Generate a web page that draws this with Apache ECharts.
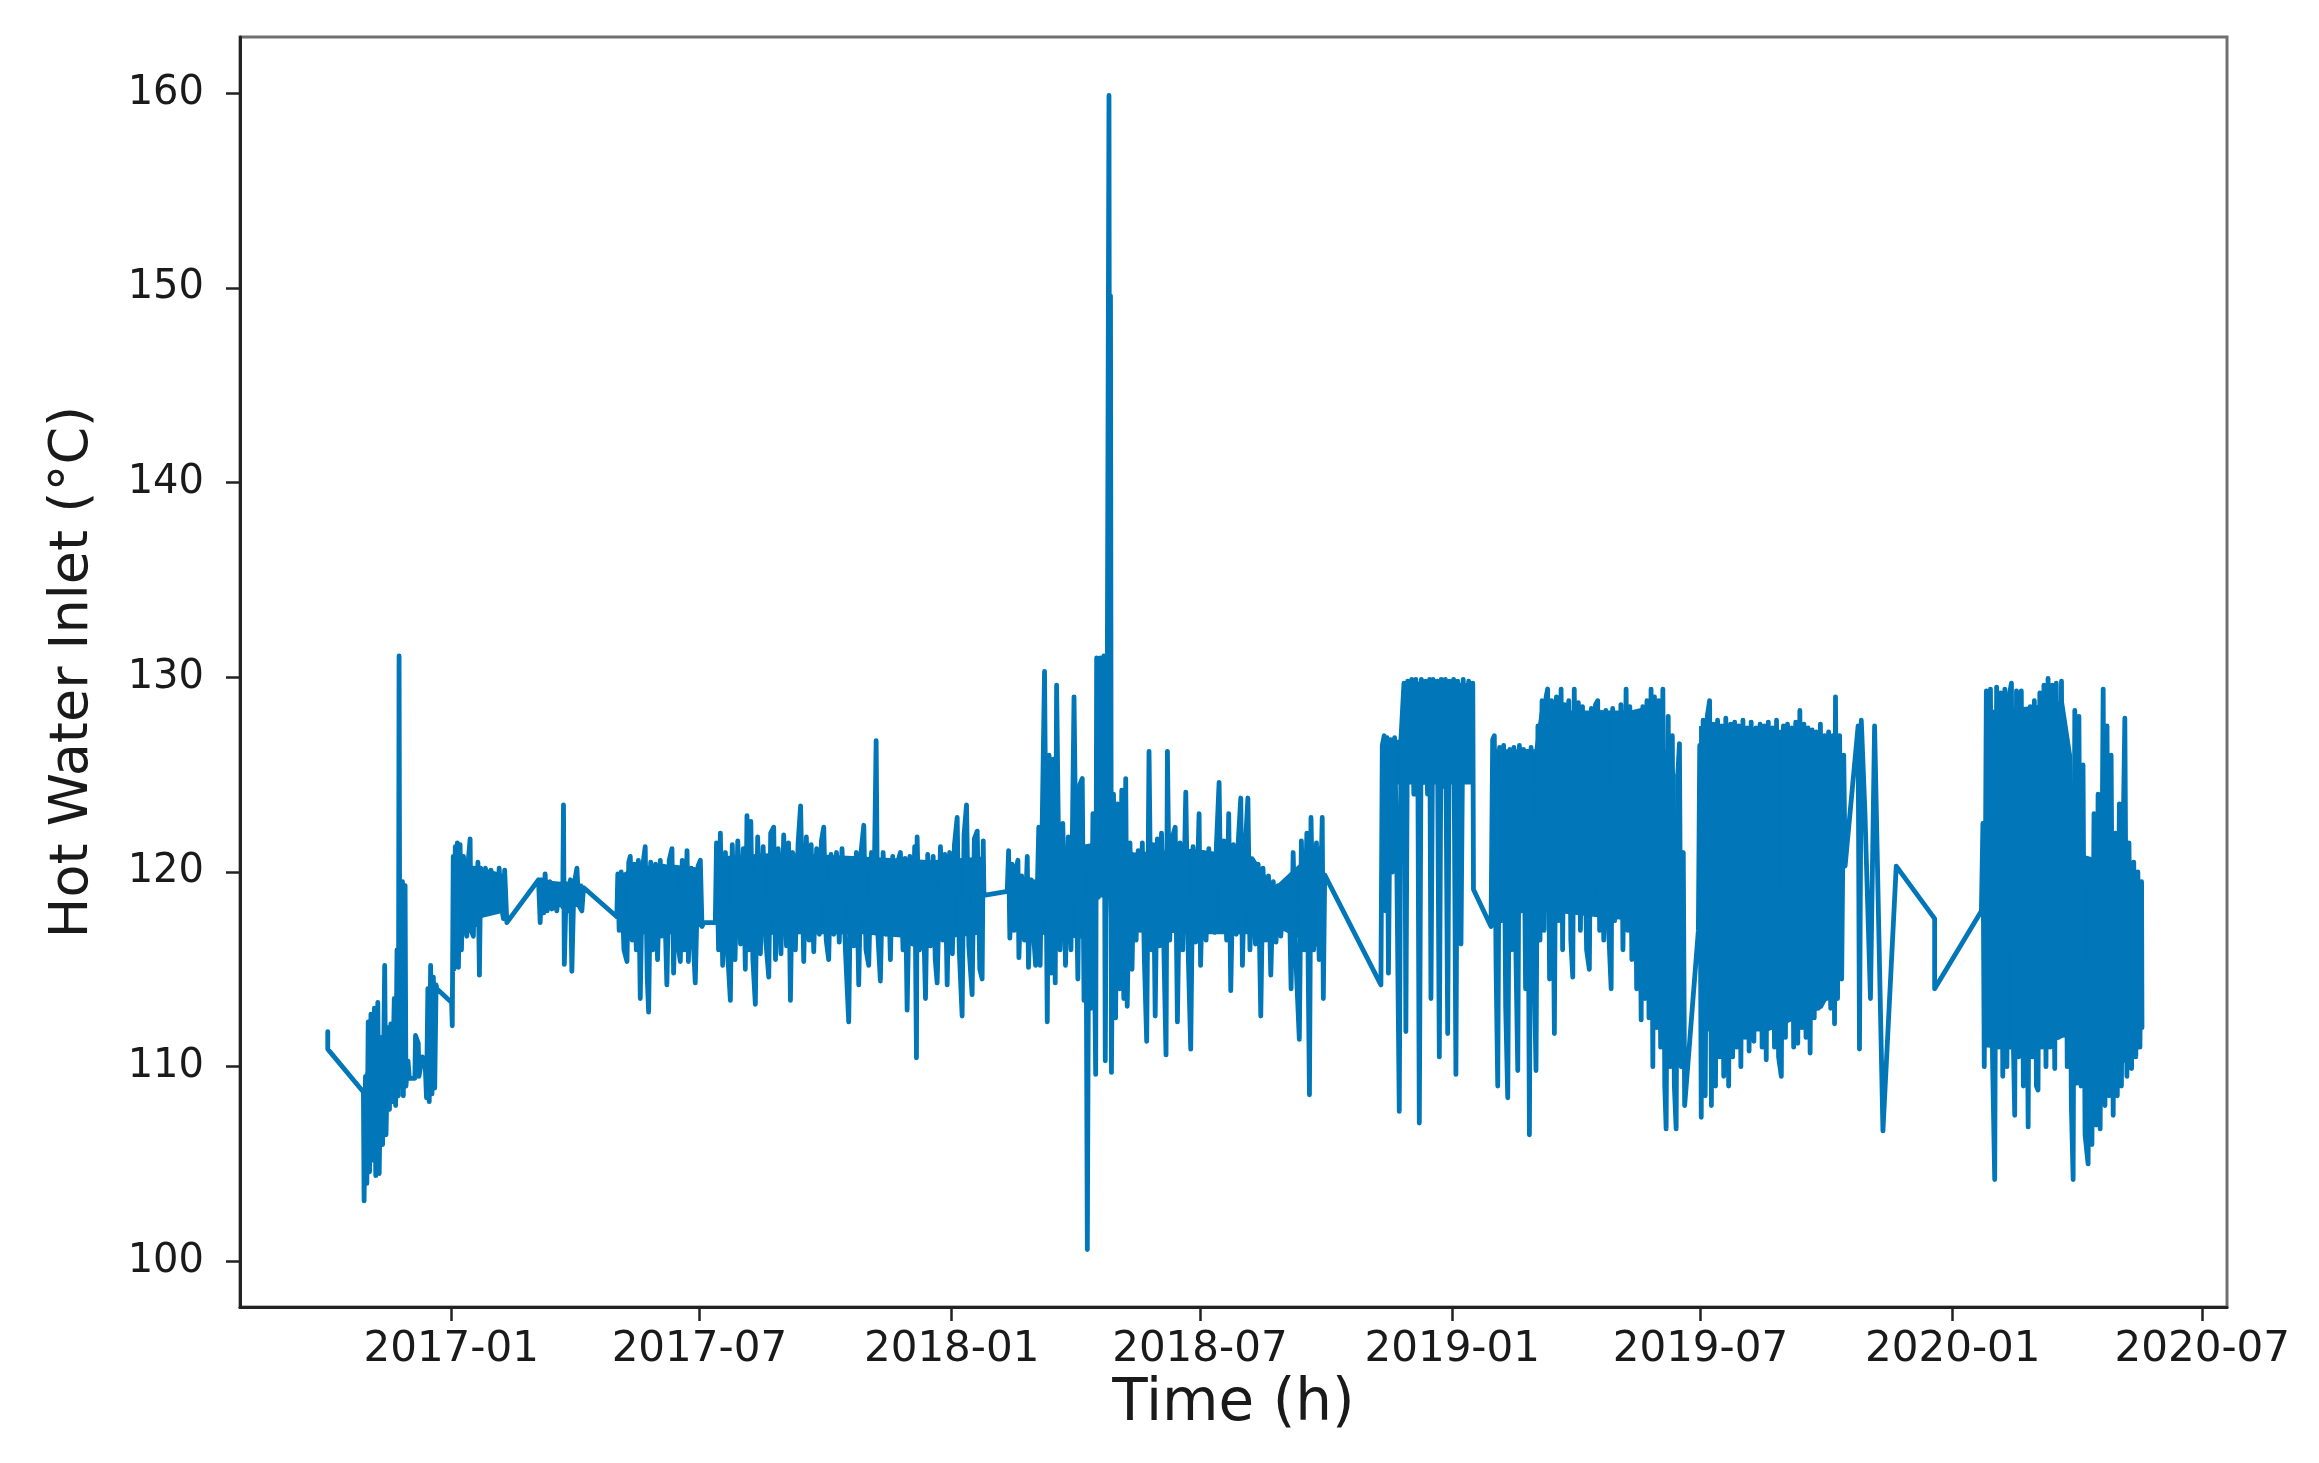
<!DOCTYPE html>
<html>
<head>
<meta charset="utf-8">
<script src="https://cdn.jsdelivr.net/npm/echarts@6/dist/echarts.min.js"></script>
<style>
html,body{margin:0;padding:0;background:#ffffff;}
#chart{width:2319px;height:1463px;}
</style>
</head>
<body>
<div id="chart"></div>
<script>
// ---------------- DATA ----------------
// x values are day offsets from BASE_DATE (2017-01-01), y values are °C
const BASE_DATE = [2017, 0, 1];
const xTickLabels = ['2017-01','2017-07','2018-01','2018-07','2019-01','2019-07','2020-01','2020-07'];
const yTickValues = [100, 110, 120, 130, 140, 150, 160];
const xAxisTitle = 'Time (h)';
const yAxisTitle = 'Hot Water Inlet (°C)';

const data2016 = [
 [-90,111.8],[-90,110.9],[-64,108.7],
 [-63.5,103.1],[-62.5,109.5],[-61.5,104.0],[-60.5,112.3],[-59.5,104.6],[-58.5,112.7],[-57.5,105.2],[-56,113.0],[-55,104.4],
 [-53.5,113.3],[-52.5,104.5],[-51,111.5],[-50,106.0],[-48.5,115.2],[-47.5,106.5],[-46,112.0],[-45,107.8],[-44,112.2],[-43,108.2],
 [-41.5,113.5],[-40.5,108.0],[-39.5,116.0],[-38.5,108.5],[-38,131.1],[-37.3,109.0],[-35.5,119.5],[-34.9,108.5],[-33.6,119.3],
 [-33,109.0],[-31.5,110.3],[-30.5,109.4],[-26.5,109.4],[-26,111.6],[-24,111.2],[-23.5,109.5],[-21,110.5],[-19,110.2],[-18,108.4],
 [-17,114.0],[-16,108.2],[-15,115.2],[-14,108.6],[-13,114.6],[-12,108.9],[-11,114.2],[-10.5,114.0],[0.3,113.3],[0.8,112.1]
];

const data2017a = [
 [1.5,120.8],[2,115.0],[3,121.3],[4,117.8],[4.5,121.5],[5.3,115.1],[6.5,121.4],[7.5,116.0],[9,120.8],[10,117.5],[11.4,116.7],
 [12.5,120.6],[13.8,121.7],[14.5,117.0],[16.2,116.7],[17,120.2],[18,117.3],[19.5,120.5],[20.6,114.7],[21.5,120.2],[23,118.2],
 [25,120.2],[27.2,118.0],[29,120.1],[31,118.5],[33.3,118.0],[35,120.2],[36.5,118.3],[38.1,117.6],[39,120.1],[40.6,117.4],
 [63.7,119.6],[64.9,117.4],[66,119.6],[67.5,117.9],[68.5,119.9],[70,118.0],[72,119.5],[73.5,118.1],[75,119.2],[77,118.0],
 [79,119.3],[81.3,118.2],[81.9,123.45],[82.5,115.25],[84,119.4],[85.5,118.0],[87,119.6],[88,114.9],[89.5,119.3],[91.7,120.2],
 [93,118.3],[95.3,118.0],[96.5,119.2],
 [120.8,117.7],[121.5,119.9],[122.5,117.0],[124,120.0],[126,116.0],[128.2,115.4],[129.5,120.5],[130.6,120.8],[132,116.5],
 [133.5,120.4],[135,116.0],[136.5,120.6],[137.9,113.5],[139.5,120.2],[141.5,121.3],[143,114.5],[144,112.8],[145.5,120.5],
 [147,116.0],[149,120.4],[150.5,115.5],[152.5,120.6],[153.5,116.7],[155,120.3],[157.3,114.2],[159,120.6],[161,121.2],
 [162.2,114.8],[164,120.2],[165.5,116.2],[167.1,115.4],[168.5,120.6],[170,116.0],[172,121.1],[173,115.4],[175,120.2],
 [176.5,116.5],[178,114.3],[180,120.3],[181.7,120.6],[182.9,117.2],[184.1,117.4],[192.6,117.4]
];

const data2017b = [
 [193.5,121.5],[195,116.0],[196.3,122.0],[198,115.2],[200,121.0],[201.5,116.0],[203.6,113.4],[205,121.4],[207,115.5],[209,121.6],
 [211,116.3],[213,121.2],[214.5,115.0],[215.7,122.9],[217,116.0],[218.5,122.6],[220,115.5],[221.8,113.2],[223.5,121.8],[225.5,115.8],
 [227.5,121.3],[229.5,116.4],[231.6,114.6],[233,122.0],[235.2,122.3],[236.5,115.5],[238.5,121.2],[240.5,115.8],[242.5,121.9],
 [244.5,116.2],[246,121.5],[247.4,113.4],[249,121.0],[251,116.0],[253,121.5],[254.8,123.4],[257.1,115.4],[259,121.8],[261,116.5],
 [262.5,121.4],[264.4,115.9],[266.5,121.2],[268.5,116.8],[270,121.6],[271.7,122.3],[273.5,116.5],[275.3,115.5],[277,120.9],
 [279,116.8],[281,121.0],[283,116.4],[285,121.2],[287.5,116.0],[289.9,112.3],[291.5,120.6],[293.5,116.2],[295.5,121.0],
 [297.2,114.2],[299,121.1],[300.9,122.4],[302.5,116.0],[304.5,115.2],[306.5,121.0],[308,116.9],[309.9,126.75],[311,117.0],
 [313,114.4],[315,121.0],[317,116.8],[318.5,120.6],[320.3,115.5],[322,120.8],[324,116.9],[326,120.6],[327.6,121.0],[329.5,116.0],
 [331,120.7],[332.5,112.9],[334.5,120.8],[336.5,116.3],[338,121.3],[339.3,110.45],[339.8,121.8],[341.5,116.0],[343.5,120.5],
 [345.9,113.5],[347.5,120.9],[349.5,116.2],[351.5,120.8],[353,115.5],[354.4,114.3],[356.8,121.3],[358.5,116.5],[360,120.9],
 [361.7,114.2],[363.5,121.0],[365.5,115.8],[367,121.4],[369,122.8],[370.5,116.0],[372.6,112.6],[374,121.9],[375.8,123.45],
 [377.5,116.2],[379.9,113.7],[381.5,121.7],[383.6,122.1],[385.5,115.0],[387.2,114.5],[388,121.6],[388.5,118.8],[405.5,119.0]
];

const data2018a = [
 [406.5,121.1],[407.4,116.6],[409,120.4],[410.5,117.0],[412,120.2],[413.3,120.6],[414,115.6],[416,119.8],[418,116.5],[420.1,120.8],
 [421,115.1],[423,119.6],[424.5,117.0],[426.2,115.2],[427.4,119.0],
 [428.5,122.3],[429.5,115.2],[431,122.5],[432.7,130.3],[434.7,112.3],[436,126.0],[437.5,114.8],[439,125.8],[440.5,114.3],
 [441.5,129.6],[442.5,123.8],[444,116.0],[446,122.5],[448,115.2],[450,121.8],[452,116.0],[454.2,129.0],[455.4,121.8],[457,114.5],
 [458.5,124.5],[460.2,124.8],[461.5,113.4],[463,118.5],[463.9,100.6],[465,120.0],[466.5,113.0],[468,123.0],[470,109.6],
 [470.7,131.0],[472,118.7],[473.5,131.0],[475,118.8],[476,131.1],[477,110.3],[478.5,131.0],[479.7,159.9],[480.4,118.7],
 [480.8,149.6],[481.5,109.7],[483,124.0],[484.5,112.5],[486,123.5],[487.5,114.0],[489,124.2],[490.5,113.5],[491.9,124.8],
 [493,113.1],[495,121.5],[496.5,115.0],[498,120.8],
 [499.5,116.5],[501,121.1],[502.5,117.0],[504,121.5],[505.5,115.5],[507.2,111.3],[508.9,126.2],[510.5,116.0],[512,121.4],
 [513.4,112.6],[515,121.7],[516.5,116.2],[518,122.0],[519.5,116.8],[521.3,110.6],[522.3,126.2],[524,116.5],[526,121.8],
 [528,122.3],[529.6,112.3],[531.5,121.5],[533.5,116.0],[535.7,124.1],[537.5,115.8],[539.3,110.9],[541,121.3],[543,116.4],
 [545.4,123.0],[546.5,115.2],[548.5,121.0],[550.5,116.5],[552.5,121.2],[554.5,117.0],[556.7,116.9],[558,121.3],[560,124.6],
 [561.5,117.0],[563.5,121.6],[565.5,116.5],[567,123.0],[568.5,113.9],[570.5,121.4],[572.5,116.8],[574,121.6],[575.8,123.8],
 [577,115.2],[579,121.2],[581,123.8],[582.5,116.0],[584.5,120.6],[586.5,116.3],[588.5,120.4],[590.4,112.6],[592,120.2],
 [594,116.5],[596,119.8],[597.7,114.7],[599.5,119.5],[601.5,116.4],[603,119.3],[605,116.7],[607,119.0],[609,117.2],[611,119.5],
 [612.5,114.0],[614,121.0],[616,115.5],[618.5,111.4],[620,121.6],[622,116.0],[624,122.0],[625.9,108.55],[627,122.8],[629,116.0],
 [631,121.5],[633,115.5],[635.2,122.8],[636,113.5],[637,119.85]
];

const data2018b = [
 [678,114.2],[679,126.5],[680.4,127.0],[681.5,118.0],[682.5,126.9],[683.5,114.8],[685,126.8],[686.5,120.0],[688,126.9],
 [689.5,121.0],[691.4,107.7],[692.6,126.8],
 [694.8,129.7],[695.5,124.5],[696.2,111.8],[697.5,129.8],[699,124.8],[700.5,129.9],[702,124.0],[703.5,129.9],[705,124.5],
 [706,107.1],[707.5,129.9],[709,124.6],[710.5,129.8],[712,124.0],[713.5,129.9],[714.5,113.5],[716,129.9],[717.5,124.8],
 [719,129.8],[720.6,110.5],[722,129.9],[723.5,124.4],[725,129.9],[726.7,111.7],[728,129.8],[729.5,124.8],[731,129.9],
 [732.7,109.6],[734,129.8],[735.5,124.6],[736.4,116.3],[738,129.9],[740,125.0],[742,129.8],[744,124.8],[745,129.7],
 [745.5,119.1],[758.3,117.2]
];

const data2019a = [
 [759.5,126.8],[760.7,127.0],[762,115.0],[763.2,109.0],[764.5,126.4],[766,117.5],[767.5,126.5],[769,113.0],[770.5,108.4],
 [772,126.3],[773.5,116.0],[775,126.4],[776.5,115.5],[777.8,109.8],[779,126.5],[780.5,118.0],[782,126.3],[783.5,114.0],
 [785,126.2],[786.3,106.5],[787.5,126.4],[789,118.0],[791.1,109.8],[792.5,127.5],[794,116.5],[795.5,128.8],[797,117.0],
 [798.5,129.0],[799.6,129.4],[801,114.5],[802.5,128.8],[804.5,111.7],[806,129.0],[807.5,117.5],[809.4,129.4],[810.5,116.0],
 [812,128.6],[813.5,118.0],[815,128.8],[816.5,116.5],[817.9,114.6],[819,129.4],[820.5,118.5],[822,128.7],[823.5,117.0],
 [825,128.5],[826.4,128.6],[828,116.0],[830,115.0],[831.5,128.4],[833,118.5],[834.5,128.6],[836.1,128.8],[837.5,117.0],
 [839,128.2],[840.5,116.5],[842,128.3],[843.5,118.0],[845.9,114.0],[847,128.4],[848.5,117.5],[850,128.0],[851.5,118.5],
 [853,128.6],[854.5,116.0],[856.8,129.4],[858,117.0],[859.5,128.5],[861,115.5],[862.9,128.0],[864.5,114.0],[866,127.8],
 [867.8,112.4],[869,128.5],[870.5,113.5],[872,128.8],[873.5,112.5],[875,129.4],[876.3,110.0],[877.5,129.0],[879,112.0],
 [880.5,128.8],[882,111.0],[883.6,129.4],[885,109.0],[886,106.8],[887.5,128.0],[889,110.0],[890.5,127.0],[892,109.0],
 [893.3,106.8],[894.5,125.0],[895.7,126.6],[897,110.0],[898.5,121.0],[899.5,108.0]
];

const data2019b = [
 [909.5,117.0],[910.5,126.5],[911.6,107.4],[913,127.8],[914.5,108.5],[916,128.0],[917.7,128.8],[919,108.0],[920.5,127.6],
 [922,109.0],[923.5,127.8],[925,110.5],[926.5,127.5],[928,109.5],[929.5,127.9],[931.6,109.0],[933,127.6],[934.5,110.5],
 [936,127.7],[937.5,111.0],[939,127.5],[940.5,110.0],[942,127.8],[943.5,111.5],[945,127.4],[946.5,110.8],[948,127.7],
 [950,111.3],[951.5,127.4],[953,112.0],[954.5,127.6],[956,111.0],[957.5,127.5],[959,110.35],[960.5,127.7],[962,112.0],
 [963.5,127.4],[965,111.0],[966.5,127.8],[968,110.5],[970,109.5],[971.5,127.5],[973,111.5],[974.5,127.6],[976,112.5],
 [977.5,127.4],[979,111.0],[980.5,127.7],[982,111.2],[983.5,128.3],[985,112.0],[986.5,127.6],[988,111.5],[989.5,127.4],
 [991,110.7],[992.5,127.3],[994,112.5],[995.5,127.2],[997,113.0],[998.5,127.6],[1000,114.8],[1001.5,127.0],[1003,113.5],
 [1004.5,127.2],[1006,113.0],[1007.5,127.0],[1008.8,112.2],[1009.5,129.0],[1011,113.5],[1012.5,127.0],[1014,114.5],
 [1015.5,126.0],[1016.5,120.3],[1026,127.5],[1027,110.9],[1028.3,127.8],[1031,123.0],[1035,113.5],[1038,127.5],
 [1044.1,106.7],[1053.8,120.3],[1081.8,117.6],[1081.8,114.0],[1115.9,118.0]
];

const data2020 = [
 [1117,122.5],[1118,110.0],[1119.5,129.3],[1121,112.0],[1122.5,129.4],[1124,110.5],[1125.6,104.2],[1127,129.5],[1128.5,111.0],
 [1130,129.2],[1131.5,109.5],[1133,129.4],[1134.5,110.0],[1136,129.0],[1137.8,129.7],[1139,112.0],[1140.2,107.5],[1141.5,129.3],
 [1143,110.5],[1145,129.3],[1146.5,109.0],[1148,127.5],[1150,106.9],[1151.5,128.5],[1153,110.5],[1154.5,128.8],[1156,109.0],
 [1157.2,108.8],[1158.5,129.2],[1160,111.0],[1161.5,129.6],[1163,110.0],[1164.5,129.95],[1166,111.0],[1167.5,129.6],
 [1169.4,109.9],[1170.5,129.7],[1172,111.5],[1174.3,129.8],[1175.5,112.0],[1177,127.0],[1178.5,110.0],[1180,126.0],
 [1181.5,108.0],[1182.8,104.2],[1184,128.3],[1185.5,110.0],[1187,128.0],[1188.5,109.0],[1190,125.5],[1191.5,106.5],
 [1193.7,105.0],[1195,119.0],[1196.5,106.0],[1198,123.0],[1199.5,107.0],[1201,124.0],[1202.5,106.8],[1204.7,129.4],
 [1206,108.0],[1207.5,127.5],[1209,108.5],[1210.5,126.0],[1212,107.5],[1213.5,122.0],[1215,108.5],[1216.5,123.5],
 [1218,109.0],[1219.5,123.0],[1220.5,127.9],[1222,109.5],[1223.5,121.5],[1225.4,109.9],[1227,120.5],[1228.5,110.5],
 [1230,120.0],[1231.5,111.0],[1232.7,119.5],[1233,112.0]
];

// solid cores of the dense blocks: [day, low, high]
const core2016 = [[-63,106.0,109.5],[-58,106.5,111.0],[-52,107.0,111.5],[-46,108.0,111.5],[-40,108.8,112.5],[-35,109.0,111.5],[-31,109.3,110.0]];
const core2017a = [[2,117.6,120.4],[20,117.6,120.3],[38,117.9,119.9]];
const core2017b = [[64,118.2,119.6],[96,118.2,119.4]];
const core2017c = [[121,117.2,119.8],[135,116.8,120.3],[160,116.8,120.4],[183,117.2,120.2]];
const core2017d = [[194,116.6,120.8],[240,116.8,121.0],[300,116.8,120.8],[350,116.5,120.6],[388,116.8,120.8]];
const core2018a = [[406,117.0,119.8],[427,117.0,119.6]];
const core2018b = [[428,116.8,121.0],[469,116.5,121.5],[470.3,118.7,130.8],[479,118.7,130.8],[480.5,116.5,121.5],[498,117.0,121.0]];
const core2018c = [[498,117.0,121.0],[540,116.8,121.2],[585,116.8,120.8],[600,117.2,119.2],[612,116.8,120.0],[636,116.0,121.5]];
const core2018d = [[679.5,124.5,126.8],[692.5,124.5,126.8],[694.8,124.5,129.8],[745,124.5,129.7]];
const core2019a = [[759.5,118.8,126.3],[790,118.0,126.3],[794,118.0,128.3],[860,117.5,128.3],[872,113.5,128.5],[893,112.0,125.0]];
const core2019b = [[910,111.8,127.5],[960,111.8,127.4],[1000,113.0,127.0],[1015.5,115.0,126.0]];
const core2020 = [[1118,111.0,128.3],[1150,110.8,128.5],[1176,111.5,128.8],[1182,111.5,126.0],[1184,109.0,121.0],[1210,109.5,120.5],[1232,111.0,119.5]];

// ---------------- BUILD ----------------
const LINE_COLOR = '#0176b8';
const TEXT_COLOR = '#1a1a1a';
const AXIS_COLOR = '#222222';
const FONT = 'DejaVu Sans';
const DAY_MS = 86400000;
const baseTime = Date.UTC(BASE_DATE[0], BASE_DATE[1], BASE_DATE[2]);
const toTime = d => baseTime + d * DAY_MS;
const X_MIN = Date.UTC(2016, 6, 31);
const X_MAX = Date.UTC(2020, 6, 19);

const lineData = [].concat(data2016, data2017a, data2017b, data2018a, data2018b, data2019a, data2019b, data2020)
  .map(p => [toTime(p[0]), p[1]]);
const coreBlocks = [core2016, core2017a, core2017b, core2017c, core2017d, core2018a, core2018b, core2018c, core2018d, core2019a, core2019b, core2020];
const xTickTimes = xTickLabels.map(s => { const parts = s.split('-').map(Number); return Date.UTC(parts[0], parts[1] - 1, 1); });

const series = [];
coreBlocks.forEach((blk, i) => {
  series.push({
    type: 'line', xAxisIndex: 0, stack: 'core' + i, silent: true, z: 1, symbol: 'none', animation: false,
    data: blk.map(p => [toTime(p[0]), p[1]]),
    lineStyle: { width: 0, opacity: 0 }
  });
  series.push({
    type: 'line', xAxisIndex: 0, stack: 'core' + i, silent: true, z: 1, symbol: 'none', animation: false,
    data: blk.map(p => [toTime(p[0]), p[2] - p[1]]),
    lineStyle: { width: 0, opacity: 0 },
    areaStyle: { color: LINE_COLOR, opacity: 1 }
  });
});
series.push({
  type: 'line', xAxisIndex: 0, z: 3, symbol: 'none', animation: false, silent: true,
  data: lineData,
  lineStyle: { color: LINE_COLOR, width: 4.8, join: 'round', cap: 'round' }
});

const chart = echarts.init(document.getElementById('chart'), null, { renderer: 'canvas' });
chart.setOption({
  backgroundColor: '#ffffff',
  animation: false,
  grid: {
    left: 240, right: 92, top: 37, bottom: 156,
    show: true, borderColor: '#707070', borderWidth: 3, backgroundColor: 'transparent',
    containLabel: false, outerBoundsMode: 'none'
  },
  xAxis: [
    {
      // time scale used by the data series (drawn invisibly)
      type: 'time', min: X_MIN, max: X_MAX, show: false,
      splitLine: { show: false }
    },
    {
      // visible axis: same range, ticks at the labelled months
      type: 'value', min: X_MIN, max: X_MAX, position: 'bottom',
      name: xAxisTitle, nameLocation: 'middle', nameGap: 66,
      nameTextStyle: { fontFamily: FONT, fontSize: 58, color: TEXT_COLOR },
      axisLine: { show: true, onZero: false, lineStyle: { color: AXIS_COLOR, width: 3 } },
      axisTick: { show: true, length: 14, customValues: xTickTimes, lineStyle: { color: AXIS_COLOR, width: 2.5 } },
      axisLabel: {
        show: true, customValues: xTickTimes, margin: 22,
        fontFamily: FONT, fontSize: 42, color: TEXT_COLOR,
        formatter: v => {
          let best = 0;
          xTickTimes.forEach((t, i) => { if (Math.abs(t - v) < Math.abs(xTickTimes[best] - v)) best = i; });
          return xTickLabels[best];
        }
      },
      splitLine: { show: false }, minorTick: { show: false }
    }
  ],
  yAxis: {
    type: 'value', min: 97.65, max: 162.9,
    name: yAxisTitle, nameLocation: 'middle', nameGap: 140, nameRotate: 90,
    nameTextStyle: { fontFamily: FONT, fontSize: 54, color: TEXT_COLOR },
    axisLine: { show: true, onZero: false, lineStyle: { color: AXIS_COLOR, width: 3 } },
    axisTick: { show: true, length: 14, customValues: yTickValues, lineStyle: { color: AXIS_COLOR, width: 2.5 } },
    axisLabel: {
      show: true, customValues: yTickValues, margin: 36,
      fontFamily: FONT, fontSize: 40, color: TEXT_COLOR
    },
    splitLine: { show: false }
  },
  series: series
});
</script>
</body>
</html>
